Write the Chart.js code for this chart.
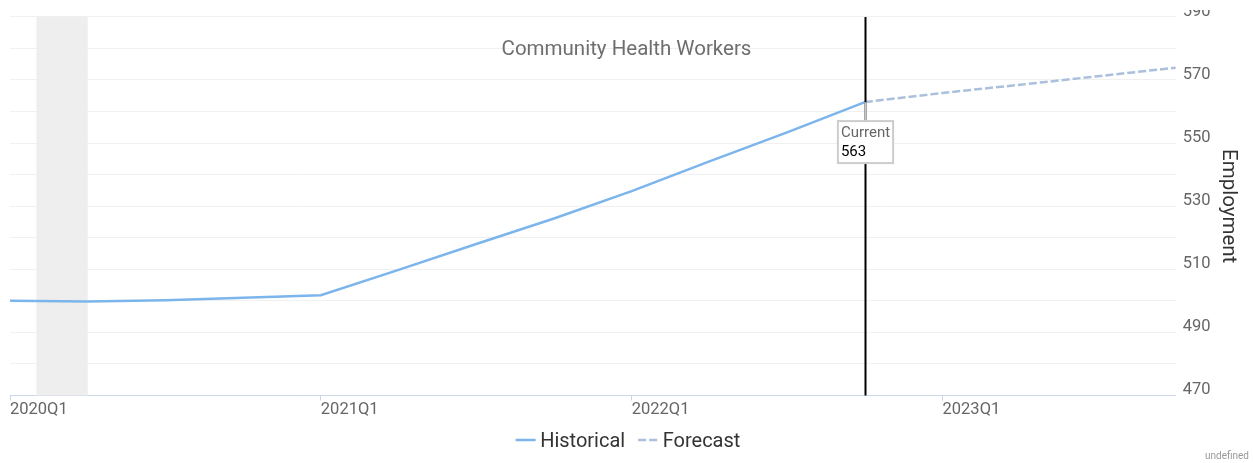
<!DOCTYPE html>
<html>
<head>
<meta charset="utf-8">
<script src="https://cdn.jsdelivr.net/npm/chart.js@4"></script>
<style>
  html, body { margin: 0; padding: 0; background: #fff; }
  #wrap { width: 1253px; height: 463px; position: relative; }
</style>
</head>
<body>
<div id="wrap"><canvas id="myChart"></canvas></div>
<script>
// dados do gráfico
const quarters = ['2020Q1', '2020Q2', '2020Q3', '2020Q4', '2021Q1', '2021Q2', '2021Q3', '2021Q4',
                  '2022Q1', '2022Q2', '2022Q3', '2022Q4', '2023Q1', '2023Q2', '2023Q3', '2023Q4'];
const historical = [500.0, 499.8, 500.2, 501.0, 501.8, 509.8, 518.0, 526.1,
                    534.8, 544.2, 553.4, 563.0, null, null, null, null];
const forecast = [null, null, null, null, null, null, null, null,
                  null, null, null, 563.0, 565.9, 568.5, 571.2, 573.9];
const yTickLabels = [470, 490, 510, 530, 550, 570, 590];
const currentIndex = 11;
// faixa cinza (recessão), em trimestres
const shadeStart = 0.34;
const shadeEnd = 1.0;

Chart.defaults.font.family = 'Roboto';

const extras = {
    id: 'extras',
    beforeDatasetsDraw(chart) {
        const ctx = chart.ctx;
        const area = chart.chartArea;
        const x = chart.scales.x;
        const x1 = x.getPixelForValue(shadeStart);
        const x2 = x.getPixelForValue(shadeEnd);
        ctx.save();
        ctx.fillStyle = '#eeeeee';
        ctx.fillRect(x1, area.top, x2 - x1, area.bottom - area.top);
        ctx.restore();
    },
    afterDatasetsDraw(chart) {
        const ctx = chart.ctx;
        const area = chart.chartArea;
        const xs = chart.scales.x;
        const ys = chart.scales.y;
        const cx = Math.round(xs.getPixelForValue(currentIndex)) + 0.5;
        const py = ys.getPixelForValue(historical[currentIndex]);
        ctx.save();
        // linha vertical "Current"
        ctx.strokeStyle = '#000';
        ctx.lineWidth = 2;
        ctx.beginPath();
        ctx.moveTo(cx, area.top);
        ctx.lineTo(cx, area.bottom);
        ctx.stroke();

        // caixa de rótulo
        ctx.font = '15px Roboto';
        const t1 = 'Current';
        const t2 = historical[currentIndex].toFixed(0);
        const w = Math.max(ctx.measureText(t1).width, ctx.measureText(t2).width) + 6;
        const bx = cx - w / 2;
        const by = py + 19;
        const bh = 42;
        ctx.strokeStyle = '#cccccc';
        ctx.lineWidth = 2;
        ctx.beginPath();
        ctx.moveTo(cx, py);
        ctx.lineTo(cx, by);
        ctx.stroke();
        ctx.fillStyle = '#fff';
        ctx.fillRect(bx, by, w, bh);
        ctx.strokeRect(bx, by, w, bh);
        ctx.textAlign = 'left';
        ctx.textBaseline = 'middle';
        ctx.fillStyle = '#666666';
        ctx.fillText(t1, bx + 3, by + 12);
        ctx.fillStyle = '#000';
        ctx.fillText(t2, bx + 3, by + 31);
        ctx.restore();
    },
    afterDraw(chart) {
        const ctx = chart.ctx;
        ctx.save();
        // corta o rótulo do topo como no original
        ctx.fillStyle = '#fff';
        ctx.fillRect(chart.chartArea.right + 2, 0, 60, 10);
        // título dentro da área do gráfico
        ctx.font = '20.5px Roboto';
        ctx.fillStyle = '#6e6e6e';
        ctx.textAlign = 'center';
        ctx.textBaseline = 'middle';
        ctx.fillText('Community Health Workers', chart.width / 2, 50);

        // legenda desenhada à mão (espaçamento do original)
        ctx.font = '20px Roboto';
        const sets = chart.data.datasets;
        const symW = 20, gap = 4.5, itemGap = 13;
        let total = 0;
        sets.forEach((ds, i) => {
            total += symW + gap + ctx.measureText(ds.label).width + (i > 0 ? itemGap : 0);
        });
        let lx = chart.width / 2 + 1.5 - total / 2;
        const ly = 440;
        sets.forEach(ds => {
            ctx.strokeStyle = ds.borderColor;
            ctx.lineWidth = ds.borderWidth;
            ctx.setLineDash(ds.borderDash || []);
            ctx.beginPath();
            ctx.moveTo(lx, ly);
            ctx.lineTo(lx + symW, ly);
            ctx.stroke();
            ctx.setLineDash([]);
            ctx.fillStyle = '#333333';
            ctx.textAlign = 'left';
            ctx.fillText(ds.label, lx + symW + gap, ly + 1.5);
            lx += symW + gap + ctx.measureText(ds.label).width + itemGap;
        });

        // crédito
        ctx.font = '10px Roboto';
        ctx.fillStyle = '#999999';
        ctx.textAlign = 'right';
        ctx.fillText('undefined', 1249, 456);
        ctx.restore();
    }
};

const ctx = document.getElementById('myChart').getContext('2d');
const myChart = new Chart(ctx, {
    type: 'line',
    data: {
        labels: quarters,
        datasets: [{
            label: 'Historical',
            data: historical,
            borderColor: '#7cb5ec',
            backgroundColor: '#7cb5ec',
            borderWidth: 2.5,
            pointRadius: 0,
            tension: 0,
            fill: false
        }, {
            label: 'Forecast',
            data: forecast,
            borderColor: '#abc0dc',
            backgroundColor: '#abc0dc',
            borderWidth: 2.5,
            borderDash: [8, 3],
            pointRadius: 0,
            tension: 0,
            fill: false
        }]
    },
    options: {
        responsive: true,
        maintainAspectRatio: false,
        animation: false,
        layout: {
            padding: { left: 10, right: 0, top: 16, bottom: 44 }
        },
        plugins: {
            legend: { display: false },
            tooltip: { enabled: false }
        },
        scales: {
            x: {
                type: 'category',
                offset: false,
                grid: {
                    drawOnChartArea: false,
                    tickLength: 5,
                    tickColor: c => (c.index % 4 === 0 ? '#ccd6eb' : 'rgba(0,0,0,0)')
                },
                border: { color: '#ccd6eb', width: 1 },
                ticks: {
                    autoSkip: false,
                    maxRotation: 0,
                    align: 'start',
                    padding: 1,
                    color: '#666666',
                    font: { size: 16.5, lineHeight: 1 },
                    callback: function(val, i) {
                        return i % 4 === 0 ? quarters[i] : '';
                    }
                }
            },
            y: {
                position: 'right',
                min: 470,
                max: 590,
                grid: {
                    color: '#f0f0f0',
                    drawTicks: false
                },
                border: { display: false },
                ticks: {
                    stepSize: 10,
                    padding: 7,
                    labelOffset: -5.5,
                    color: '#666666',
                    font: { size: 16.5 },
                    callback: function(v) {
                        return yTickLabels.includes(v) ? v : '';
                    }
                },
                title: {
                    display: true,
                    text: 'Employment',
                    color: '#333333',
                    font: { size: 20.5, lineHeight: 1 },
                    padding: { top: 15, bottom: 0 }
                }
            }
        }
    },
    plugins: [extras]
});
</script>
</body>
</html>
